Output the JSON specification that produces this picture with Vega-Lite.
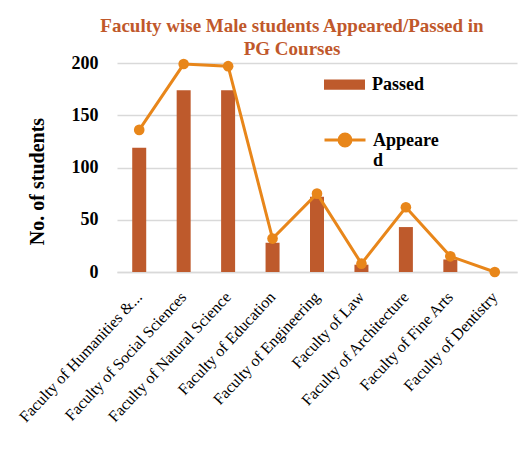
{
  "$schema": "https://vega.github.io/schema/vega-lite/v6.json",
  "autosize": "none",
  "width": 400,
  "height": 209,
  "padding": {"left": 117, "top": 63, "right": 2, "bottom": 198},
  "background": "white",
  "title": {
    "text": ["Faculty wise Male students Appeared/Passed in", "PG Courses"],
    "font": "Times New Roman, serif",
    "fontSize": 19,
    "fontWeight": "bold",
    "color": "#C0582B",
    "anchor": "middle",
    "dx": -25,
    "dy": 10,
    "offset": 5,
    "lineHeight": 23
  },
  "data": {
    "values": [
      {"Faculty": "Faculty of Humanities &...", "Passed": 119, "Appeared": 136},
      {"Faculty": "Faculty of Social Sciences", "Passed": 174, "Appeared": 199},
      {"Faculty": "Faculty of Natural Science", "Passed": 174, "Appeared": 197},
      {"Faculty": "Faculty of Education", "Passed": 28, "Appeared": 32},
      {"Faculty": "Faculty of Engineering", "Passed": 72, "Appeared": 75},
      {"Faculty": "Faculty of Law", "Passed": 7, "Appeared": 8},
      {"Faculty": "Faculty of Architecture", "Passed": 43, "Appeared": 62},
      {"Faculty": "Faculty of Fine Arts", "Passed": 12, "Appeared": 15},
      {"Faculty": "Faculty of Dentistry", "Passed": 0, "Appeared": 0}
    ]
  },
  "encoding": {
    "x": {
      "field": "Faculty",
      "type": "nominal",
      "sort": null,
      "title": null,
      "axis": {
        "labelAngle": -47,
        "labelFont": "Times New Roman, serif",
        "labelFontSize": 16,
        "labelColor": "#000000",
        "labelPadding": 22,
        "labelLimit": 300,
        "ticks": false,
        "domainColor": "#D9D9D9",
        "domainWidth": 1.5
      }
    }
  },
  "layer": [
    {
      "mark": {"type": "bar", "size": 14},
      "encoding": {
        "y": {
          "field": "Passed",
          "type": "quantitative",
          "scale": {"domain": [0, 200], "nice": false},
          "title": "No. of students",
          "axis": {
            "values": [0, 50, 100, 150, 200],
            "grid": true,
            "gridColor": "#D9D9D9",
            "gridWidth": 1.5,
            "domain": false,
            "ticks": false,
            "labelFont": "Times New Roman, serif",
            "labelFontSize": 18,
            "labelFontWeight": "bold",
            "labelColor": "#000000",
            "labelPadding": 19,
            "titleFont": "Times New Roman, serif",
            "titleFontSize": 20,
            "titleFontWeight": "bold",
            "titleColor": "#000000",
            "titlePadding": 24,
            "titleY": 118
          }
        },
        "fill": {
          "datum": "Passed",
          "scale": {"range": ["#BE5A2C"]},
          "legend": {
            "title": null,
            "orient": "none",
            "legendX": 206,
            "legendY": 0,
            "symbolType": "M-1,-0.25H1V0.25H-1Z",
            "symbolSize": 1681,
            "labelFont": "Times New Roman, serif",
            "labelFontSize": 18,
            "labelFontWeight": "bold",
            "labelColor": "#000000",
            "labelOffset": 6
          }
        }
      }
    },
    {
      "mark": {"type": "line", "strokeWidth": 3},
      "encoding": {
        "y": {"field": "Appeared", "type": "quantitative"},
        "stroke": {
          "datum": "Appeared",
          "scale": {"range": ["#E8861A"]},
          "legend": {
            "title": null,
            "orient": "none",
            "legendX": 206,
            "legendY": 61,
            "symbolType": "M-1,-0.29H1M0.29,-0.29A0.29,0.29 0 1 1 -0.29,-0.29A0.29,0.29 0 1 1 0.29,-0.29",
            "symbolSize": 1681,
            "symbolStrokeWidth": 3,
            "symbolFillColor": "#E8861A",
            "labelFont": "Times New Roman, serif",
            "labelFontSize": 18,
            "labelFontWeight": "bold",
            "labelColor": "#000000",
            "labelOffset": 6,
            "labelBaseline": "alphabetic",
            "labelExpr": "['Appeare', 'd']"
          }
        }
      }
    },
    {
      "mark": {"type": "point", "filled": true, "size": 113, "color": "#E8861A", "opacity": 1},
      "encoding": {
        "y": {"field": "Appeared", "type": "quantitative"}
      }
    }
  ],
  "resolve": {"scale": {"fill": "independent", "stroke": "independent"}},
  "config": {
    "view": {"stroke": null},
    "font": "Times New Roman, serif"
  }
}
